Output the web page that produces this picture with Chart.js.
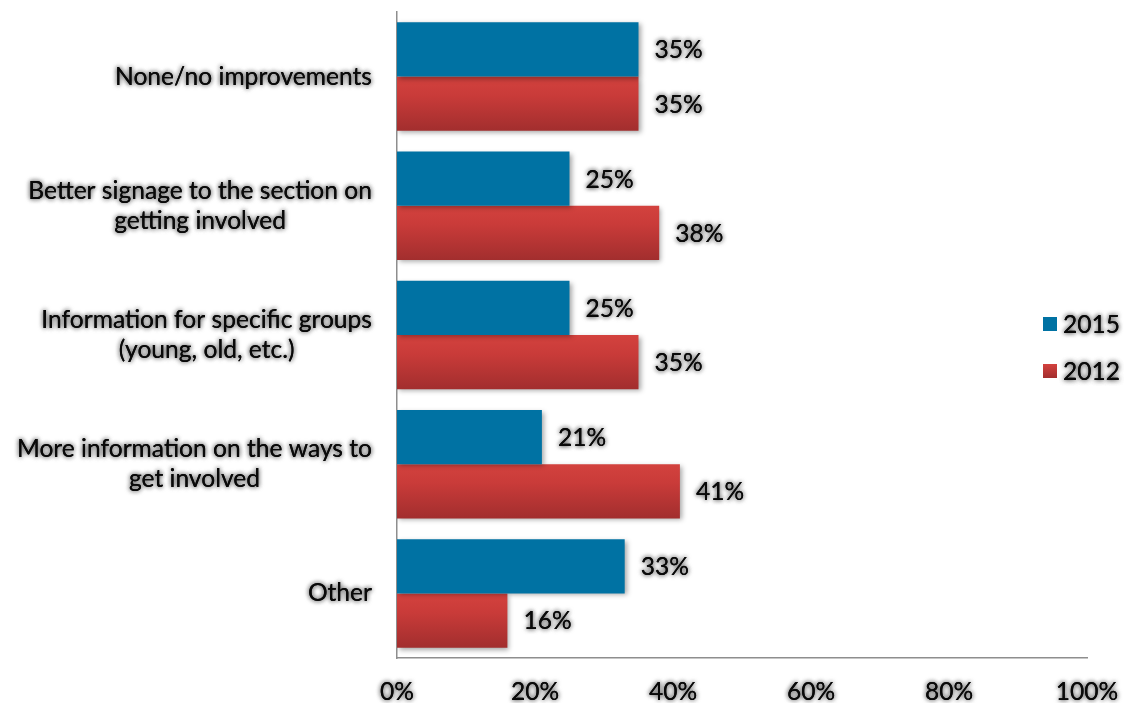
<!DOCTYPE html>
<html>
<head>
<meta charset="utf-8">
<script src="https://cdn.jsdelivr.net/npm/chart.js@4/dist/chart.umd.min.js"></script>
<style>
  html, body { margin: 0; padding: 0; background: #ffffff; }
  #wrap { width: 1124px; height: 703px; }
</style>
</head>
<body>
<div id="wrap"><canvas id="c" width="1124" height="703"></canvas></div>
<script>
// Survey answers, one entry per category (lines of a wrapped label)
const categories = [
  ["None/no improvements"],
  ["Better signage to the section on", "getting involved"],
  ["Information for specific groups", "(young, old, etc.)"],
  ["More information on the ways to", "get involved"],
  ["Other"]
];
const seriesNames = ["2015", "2012"];
const values2015 = [35, 25, 25, 21, 33];
const values2012 = [35, 38, 35, 41, 16];
const xTicks = [0, 20, 40, 60, 80, 100];

const FONT = '24.6px Lato, "Open Sans", sans-serif';
const BLUE = '#0072a3';
const RED_TOP = '#d3423e';
const RED_BOTTOM = '#a22e2e';
const CAT_PCT = 0.84;

// Vertical gradient spanning each red bar
function redFill(c) {
  const chart = c.chart;
  const y = chart.scales.y;
  if (!y || y.bottom === undefined || c.dataIndex === undefined) return RED_TOP;
  const cw = (y.bottom - y.top) / categories.length;
  const center = y.getPixelForValue(c.dataIndex);
  const half = cw * CAT_PCT / 2;
  const g = chart.ctx.createLinearGradient(0, center, 0, center + half);
  g.addColorStop(0, RED_TOP);
  g.addColorStop(0.35, '#c93b39');
  g.addColorStop(1, RED_BOTTOM);
  return g;
}

// Text with a soft grey halo
function haloText(ctx, s, x, y) {
  ctx.save();
  ctx.shadowColor = 'rgba(0,0,0,0.55)';
  ctx.shadowBlur = 5;
  ctx.shadowOffsetX = 0;
  ctx.shadowOffsetY = 0;
  ctx.fillText(s, x, y);
  ctx.fillText(s, x, y);
  ctx.restore();
}

const decor = {
  id: 'decor',
  beforeDatasetsDraw(chart) {
    const ctx = chart.ctx;
    ctx.save();
    ctx.shadowColor = 'rgba(0,0,0,0.35)';
    ctx.shadowBlur = 5;
    ctx.shadowOffsetX = 2;
    ctx.shadowOffsetY = 2;
  },
  afterDatasetsDraw(chart) {
    chart.ctx.restore();
  },
  afterDraw(chart) {
    const ctx = chart.ctx;
    const xs = chart.scales.x;
    const ys = chart.scales.y;
    ctx.save();
    ctx.font = FONT;
    ctx.fillStyle = '#0a0a0a';

    // value labels beside each bar
    ctx.textAlign = 'left';
    ctx.textBaseline = 'middle';
    chart.data.datasets.forEach((ds, di) => {
      const meta = chart.getDatasetMeta(di);
      meta.data.forEach((bar, i) => {
        haloText(ctx, ds.data[i] + '%', bar.x + 16, bar.y + 1);
      });
    });

    // category labels: block right-aligned to the axis, lines centred within it
    const lineH = 30;
    categories.forEach((lines, i) => {
      const cy = ys.getPixelForValue(i);
      const widths = lines.map(l => ctx.measureText(l).width);
      const blockW = Math.max(...widths);
      const right = xs.left - 25;
      const cx = right - blockW / 2;
      ctx.textAlign = 'center';
      lines.forEach((l, k) => {
        const ly = cy + (k - (lines.length - 1) / 2) * lineH;
        haloText(ctx, l, cx, ly);
      });
    });

    // x axis tick labels
    ctx.textAlign = 'center';
    xTicks.forEach(v => {
      haloText(ctx, v + '%', xs.getPixelForValue(v), 692);
    });

    // legend
    const legendY = [324, 371];
    chart.data.datasets.forEach((ds, di) => {
      const ly = legendY[di];
      if (di === 0) {
        ctx.fillStyle = BLUE;
      } else {
        const g = ctx.createLinearGradient(0, ly - 7, 0, ly + 7);
        g.addColorStop(0, RED_TOP);
        g.addColorStop(1, RED_BOTTOM);
        ctx.fillStyle = g;
      }
      ctx.fillRect(1043, ly - 7, 14, 14);
      ctx.fillStyle = '#0a0a0a';
      ctx.textAlign = 'left';
      haloText(ctx, seriesNames[di], 1063, ly + 1);
    });
    ctx.restore();
  }
};

new Chart(document.getElementById('c'), {
  type: 'bar',
  data: {
    labels: categories.map(l => l.join(' ')),
    datasets: [
      { label: seriesNames[0], data: values2015, backgroundColor: BLUE },
      { label: seriesNames[1], data: values2012, backgroundColor: redFill }
    ]
  },
  options: {
    indexAxis: 'y',
    responsive: false,
    devicePixelRatio: 1,
    animation: false,
    categoryPercentage: CAT_PCT,
    barPercentage: 1,
    layout: { padding: { left: 389, right: 37, top: 12, bottom: 37 } },
    plugins: { legend: { display: false }, tooltip: { enabled: false } },
    scales: {
      x: {
        min: 0, max: 100,
        grid: { display: false },
        border: { color: '#8e8e8e', width: 1.5 },
        ticks: { display: false }
      },
      y: {
        grid: { display: false },
        border: { color: '#8e8e8e', width: 1.5 },
        ticks: { display: false }
      }
    }
  },
  plugins: [decor]
});
</script>
</body>
</html>
